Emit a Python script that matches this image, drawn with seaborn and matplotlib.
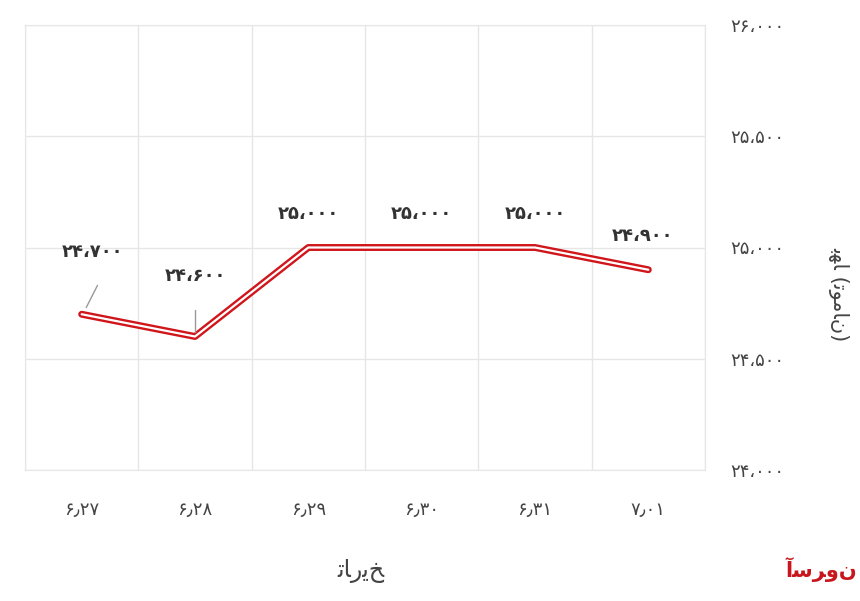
import matplotlib
matplotlib.use("Agg")
import matplotlib.pyplot as plt
import seaborn as sns
import pandas as pd

sns.set_style("white")
plt.rcParams['font.family'] = ['DejaVu Sans']

FA = str.maketrans("0123456789,.", "۰۱۲۳۴۵۶۷۸۹،٫")

def fa(s):
    return s.translate(FA)

dates = ["6.27", "6.28", "6.29", "6.30", "6.31", "7.01"]
prices = [24700, 24600, 25000, 25000, 25000, 24900]
y_ticks = [24000, 24500, 25000, 25500, 26000]

# Persian titles written with joined (presentation) letter forms, logical order
x_title = "\uFE97\uFE8E\uFEAD\uFBFE\uFEA6"                                   # تاریخ
y_title = "\uFE91\uFEEC\uFE8E (\uFE97\uFEEE\uFEE3\uFE8E\uFEE5)"              # بها (تومان)
brand = "\uFE81\uFEB3\uFEAE\uFEED\uFEE5"                                     # آسرون

df = pd.DataFrame({"date": [fa(d) for d in dates], "price": prices})
df["x"] = range(len(df))

fig = plt.figure(figsize=(8.6, 6.01), dpi=100)
ax = fig.add_axes([25 / 860, 131 / 601, 680 / 860, 445 / 601])

sns.lineplot(data=df, x="x", y="price", ax=ax, color="#d0161b", lw=5)
sns.lineplot(data=df, x="x", y="price", ax=ax, color="white", lw=1.6)

ax.set_xlim(-0.5, len(df) - 0.5)
ax.set_ylim(24000, 26000)
ax.set_yticks(y_ticks)
ax.set_yticklabels([fa(f"{v:,}") for v in y_ticks], fontsize=13, color="#444444")
ax.yaxis.tick_right()
ax.set_xticks(df["x"])
ax.set_xticklabels(df["date"], fontsize=13, color="#444444")
ax.set_xticks([i + 0.5 for i in range(-1, len(df))], minor=True)
ax.tick_params(axis="x", which="major", length=0, pad=22)
ax.tick_params(axis="y", length=0, pad=18)
ax.grid(which="minor", axis="x", color="#e6e6e6", lw=1)
ax.grid(which="major", axis="y", color="#e6e6e6", lw=1)
for s in ax.spines.values():
    s.set_color("#e6e6e6")
ax.set_xlabel("")
ax.set_ylabel("")

# data labels (first two with leader lines)
for i in range(len(df)):
    x, y = df["x"][i], df["price"][i]
    if i == 0:
        ax.plot([x + 0.04, x + 0.14], [y + 30, y + 130], color="#999999", lw=1)
        tx, ty = x + 0.1, y + 280
    elif i == 1:
        ax.plot([x, x], [y + 20, y + 120], color="#999999", lw=1)
        tx, ty = x, y + 270
    else:
        tx, ty = x - (0.05 if i == 5 else 0), y + 150
    ax.text(tx, ty, fa(f"{prices[i]:,}"), ha="center", va="center",
            fontsize=13, fontweight="bold", color="#333333")

fig.text(0.42, 0.04, x_title, fontsize=17, ha="center", color="#444444")
fig.text(0.975, 0.51, y_title, fontsize=15,
         rotation=270, ha="center", va="center", color="#444444")
fig.text(0.955, 0.04, brand, fontsize=15, fontweight="bold",
         ha="center", color="#c8161d")

fig.savefig("out.png", dpi=100)
